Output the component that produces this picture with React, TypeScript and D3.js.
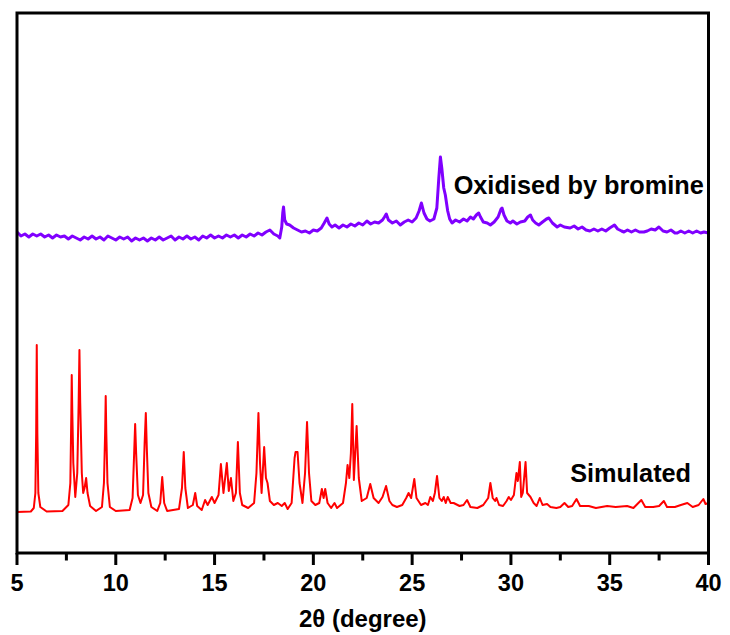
import { useEffect, useRef } from "react";
import * as d3 from "d3";

// 2-theta positions and intensities (a.u.)
const simulatedTheta = [
  5.0, 5.7, 5.85, 5.93, 5.97, 6.0, 6.03, 6.08, 6.18, 6.5, 7.3, 7.6, 7.7, 7.75, 7.77, 7.8, 7.85, 7.95, 8.05, 8.12,
  8.16, 8.2, 8.28, 8.35, 8.42, 8.5, 8.57, 8.7, 9.0, 9.3, 9.4, 9.46, 9.49, 9.52, 9.58, 9.7, 10.0, 10.7, 10.85, 10.93,
  10.98, 11.03, 11.12, 11.25, 11.38, 11.46, 11.52, 11.57, 11.65, 11.8, 12.1, 12.25, 12.35, 12.45, 12.6, 13.2, 13.35, 13.44, 13.52, 13.65,
  13.9, 14.02, 14.12, 14.35, 14.52, 14.65, 14.86, 15.0, 15.2, 15.32, 15.45, 15.62, 15.72, 15.83, 15.95, 16.08, 16.18, 16.28, 16.4, 16.7,
  17.0, 17.12, 17.22, 17.3, 17.38, 17.51, 17.6, 17.68, 17.8, 18.0, 18.2, 18.4, 18.55, 18.7, 18.9, 19.05, 19.1, 19.2, 19.3, 19.45,
  19.58, 19.68, 19.78, 19.9, 20.1, 20.3, 20.43, 20.52, 20.6, 20.72, 20.9, 21.07, 21.2, 21.5, 21.65, 21.73, 21.82, 21.9, 21.97, 22.05,
  22.12, 22.19, 22.3, 22.45, 22.7, 22.88, 23.05, 23.3, 23.5, 23.68, 23.85, 24.0, 24.23, 24.5, 24.7, 24.82, 24.95, 25.11, 25.22, 25.45,
  25.67, 25.8, 25.92, 26.05, 26.15, 26.26, 26.38, 26.5, 26.6, 26.7, 26.8, 26.95, 27.1, 27.4, 27.6, 27.78, 27.95, 28.3, 28.6, 28.85,
  28.96, 29.08, 29.2, 29.27, 29.4, 29.6, 29.78, 29.89, 30.0, 30.15, 30.28, 30.35, 30.45, 30.52, 30.6, 30.74, 30.82, 30.99, 31.15, 31.3,
  31.46, 31.6, 31.83, 32.0, 32.3, 32.5, 32.71, 32.9, 33.1, 33.32, 33.5, 33.94, 34.3, 34.87, 35.3, 35.88, 36.2, 36.6, 36.8, 37.2,
  37.5, 37.74, 37.9, 38.3, 38.6, 38.93, 39.2, 39.5, 39.74, 39.85, 40.0,
];
const simulatedIntensity = [
  41, 41.5, 45, 60, 120, 208, 120, 60, 46, 41.5, 42, 48, 70, 140, 178, 140, 90, 56, 80, 150,
  203, 150, 80, 60, 65, 75, 60, 47, 42, 46, 70, 120, 157, 120, 70, 46, 42, 43, 55, 100,
  129, 100, 58, 50, 58, 110, 140, 105, 60, 46, 42, 50, 76, 50, 42, 44, 65, 101, 65, 45,
  48, 60, 47, 43, 53, 48, 56, 50, 58, 89, 60, 90, 62, 75, 52, 60, 111, 60, 48, 45,
  50, 80, 140, 90, 60, 106, 75, 70, 52, 48, 50, 47, 50, 44, 50, 95, 101, 101, 70, 50,
  80, 131, 80, 52, 48, 50, 64, 55, 64, 50, 45, 50, 45, 50, 70, 88, 75, 100, 149, 73,
  100, 127, 75, 52, 55, 69, 55, 50, 56, 67, 52, 48, 46, 48, 55, 60, 55, 74, 55, 48,
  50, 48, 56, 52, 60, 77, 55, 52, 56, 50, 56, 50, 50, 47, 48, 53, 46, 45, 48, 55,
  70, 55, 52, 55, 48, 47, 52, 56, 53, 58, 80, 72, 91, 56, 60, 91, 60, 56, 50, 47,
  55, 48, 49, 46, 45, 46, 50, 46, 47, 54, 47, 47, 45, 47, 46, 47, 45, 53, 46, 46,
  47, 52, 46, 46, 48, 50, 46, 48, 54, 49, 50,
];

const oxidisedTheta = [
  5.0, 5.2, 5.4, 5.6, 5.8, 6.0, 6.2, 6.4, 6.6, 6.8, 7.0, 7.2, 7.4, 7.6, 7.8, 8.0, 8.2, 8.4, 8.6, 8.8,
  9.0, 9.2, 9.4, 9.6, 9.8, 10.0, 10.2, 10.4, 10.6, 10.8, 11.0, 11.2, 11.4, 11.6, 11.8, 12.0, 12.2, 12.4, 12.6, 12.8,
  13.0, 13.2, 13.4, 13.6, 13.8, 14.0, 14.2, 14.4, 14.6, 14.8, 15.0, 15.2, 15.4, 15.6, 15.8, 16.0, 16.2, 16.4, 16.6, 16.8,
  17.0, 17.2, 17.4, 17.6, 17.8, 18.0, 18.2, 18.3, 18.4, 18.45, 18.49, 18.55, 18.65, 18.8, 19.0, 19.2, 19.4, 19.6, 19.8, 20.0,
  20.2, 20.4, 20.55, 20.69, 20.8, 20.94, 21.1, 21.3, 21.5, 21.7, 21.9, 22.1, 22.3, 22.5, 22.71, 22.9, 23.1, 23.3, 23.5, 23.6,
  23.69, 23.8, 24.0, 24.2, 24.4, 24.6, 24.8, 25.0, 25.2, 25.35, 25.47, 25.6, 25.75, 25.9, 26.1, 26.25, 26.35, 26.43, 26.5, 26.6,
  26.68, 26.8, 26.9, 27.02, 27.2, 27.4, 27.6, 27.78, 27.95, 28.1, 28.25, 28.37, 28.46, 28.6, 28.8, 28.96, 29.15, 29.35, 29.5, 29.55,
  29.65, 29.8, 29.97, 30.1, 30.3, 30.48, 30.7, 30.85, 30.99, 31.1, 31.25, 31.41, 31.6, 31.8, 31.92, 32.1, 32.34, 32.5, 32.7, 33.0,
  33.2, 33.4, 33.6, 33.8, 34.0, 34.2, 34.4, 34.6, 34.8, 35.0, 35.24, 35.4, 35.6, 35.72, 35.9, 36.1, 36.3, 36.5, 36.73, 36.9,
  37.1, 37.3, 37.49, 37.7, 37.9, 38.1, 38.3, 38.42, 38.6, 38.8, 39.0, 39.2, 39.4, 39.6, 39.77, 40.0,
];
const oxidisedIntensity = [
  321, 317, 319, 316, 319, 317, 319, 316, 318, 315, 318, 316, 317, 314, 317, 315, 313, 316, 314, 317,
  314, 316, 313, 317, 315, 313, 316, 314, 316, 312, 315, 313, 315, 312, 315, 313, 316, 313, 315, 317,
  313, 316, 314, 317, 314, 316, 313, 317, 315, 318, 315, 317, 315, 318, 316, 318, 315, 318, 316, 319,
  317, 320, 318, 321, 323, 319, 317, 315, 326, 340, 346, 333, 329, 328, 325, 323, 321, 322, 320, 323,
  322, 325, 330, 335, 329, 326, 328, 325, 328, 326, 329, 327, 330, 328, 332, 329, 331, 330, 333, 336,
  339, 333, 330, 332, 328, 331, 333, 331, 335, 342, 350, 340, 334, 332, 334, 345, 375, 396, 385, 365,
  358, 342, 334, 330, 333, 331, 334, 332, 336, 334, 338, 340, 336, 331, 330, 328, 331, 336, 344, 345,
  338, 332, 330, 332, 329, 331, 332, 336, 338, 333, 330, 328, 331, 334, 335, 330, 326, 328, 326, 325,
  327, 324, 326, 323, 322, 324, 322, 324, 322, 325, 328, 324, 322, 321, 323, 321, 323, 321, 321, 322,
  324, 323, 326, 322, 321, 323, 320, 320, 322, 320, 322, 320, 322, 320, 321, 320,
];

const xTicks = [5, 10, 15, 20, 25, 30, 35, 40];
const xMinorTicks = [7.5, 12.5, 17.5, 22.5, 27.5, 32.5, 37.5];

const series = [
  { name: "Simulated", theta: simulatedTheta, intensity: simulatedIntensity, color: "#ff0000" },
  { name: "Oxidised by bromine", theta: oxidisedTheta, intensity: oxidisedIntensity, color: "#8000ff" },
];

const FONT = "Arial, 'Liberation Sans', sans-serif";

function XrdChart({ width, height }) {
  const svgRef = useRef(null);

  useEffect(() => {
    const svg = d3.select(svgRef.current);
    svg.selectAll("*").remove();

    const margin = { top: 13, right: 21.5, bottom: 82, left: 17 };
    const innerWidth = width - margin.left - margin.right;
    const innerHeight = height - margin.top - margin.bottom;

    const xScale = d3.scaleLinear().domain([5, 40]).range([0, innerWidth]);
    const yScale = d3.scaleLinear().domain([0, 540]).range([innerHeight, 0]);

    const g = svg.append("g").attr("transform", `translate(${margin.left},${margin.top})`);

    const line = d3
      .line()
      .x((d) => xScale(d[0]))
      .y((d) => yScale(d[1]));

    series.forEach((s) => {
      const pts = s.theta.map((t, i) => [t, s.intensity[i]]);
      g.append("path")
        .datum(pts)
        .attr("fill", "none")
        .attr("stroke", s.color)
        .attr("stroke-width", s.name === "Simulated" ? 2 : 3)
        .attr("stroke-linejoin", "round")
        .attr("d", line);
    });

    // Frame
    g.append("rect")
      .attr("width", innerWidth)
      .attr("height", innerHeight)
      .attr("fill", "none")
      .attr("stroke", "#000")
      .attr("stroke-width", 3);

    // Bottom axis
    const axis = g.append("g").attr("transform", `translate(0,${innerHeight})`);
    axis
      .selectAll(".major")
      .data(xTicks)
      .enter()
      .append("line")
      .attr("x1", (d) => xScale(d))
      .attr("x2", (d) => xScale(d))
      .attr("y1", 0)
      .attr("y2", 12)
      .attr("stroke", "#000")
      .attr("stroke-width", 3);
    axis
      .selectAll(".minor")
      .data(xMinorTicks)
      .enter()
      .append("line")
      .attr("x1", (d) => xScale(d))
      .attr("x2", (d) => xScale(d))
      .attr("y1", 0)
      .attr("y2", 7.5)
      .attr("stroke", "#000")
      .attr("stroke-width", 3);
    axis
      .selectAll("text")
      .data(xTicks)
      .enter()
      .append("text")
      .attr("x", (d) => xScale(d))
      .attr("y", 38)
      .attr("text-anchor", "middle")
      .style("font-family", FONT)
      .style("font-weight", "bold")
      .style("font-size", "23.5px")
      .text((d) => d);

    svg
      .append("text")
      .attr("x", margin.left + innerWidth / 2)
      .attr("y", 627)
      .attr("text-anchor", "middle")
      .style("font-family", FONT)
      .style("font-weight", "bold")
      .style("font-size", "24px")
      .text("2θ (degree)");

    // Series labels
    g.append("text")
      .attr("x", xScale(33.0))
      .attr("y", yScale(71.5))
      .style("font-family", FONT)
      .style("font-weight", "bold")
      .style("font-size", "25.3px")
      .text("Simulated");
    g.append("text")
      .attr("x", xScale(27.1))
      .attr("y", yScale(359))
      .style("font-family", FONT)
      .style("font-weight", "bold")
      .style("font-size", "25.3px")
      .text("Oxidised by bromine");
  }, [width, height]);

  return (
    <svg
      ref={svgRef}
      width={width}
      height={height}
      style={{ position: "absolute", left: 0, top: 0, background: "#fff" }}
    />
  );
}

export default function App() {
  return <XrdChart width={730} height={635} />;
}
